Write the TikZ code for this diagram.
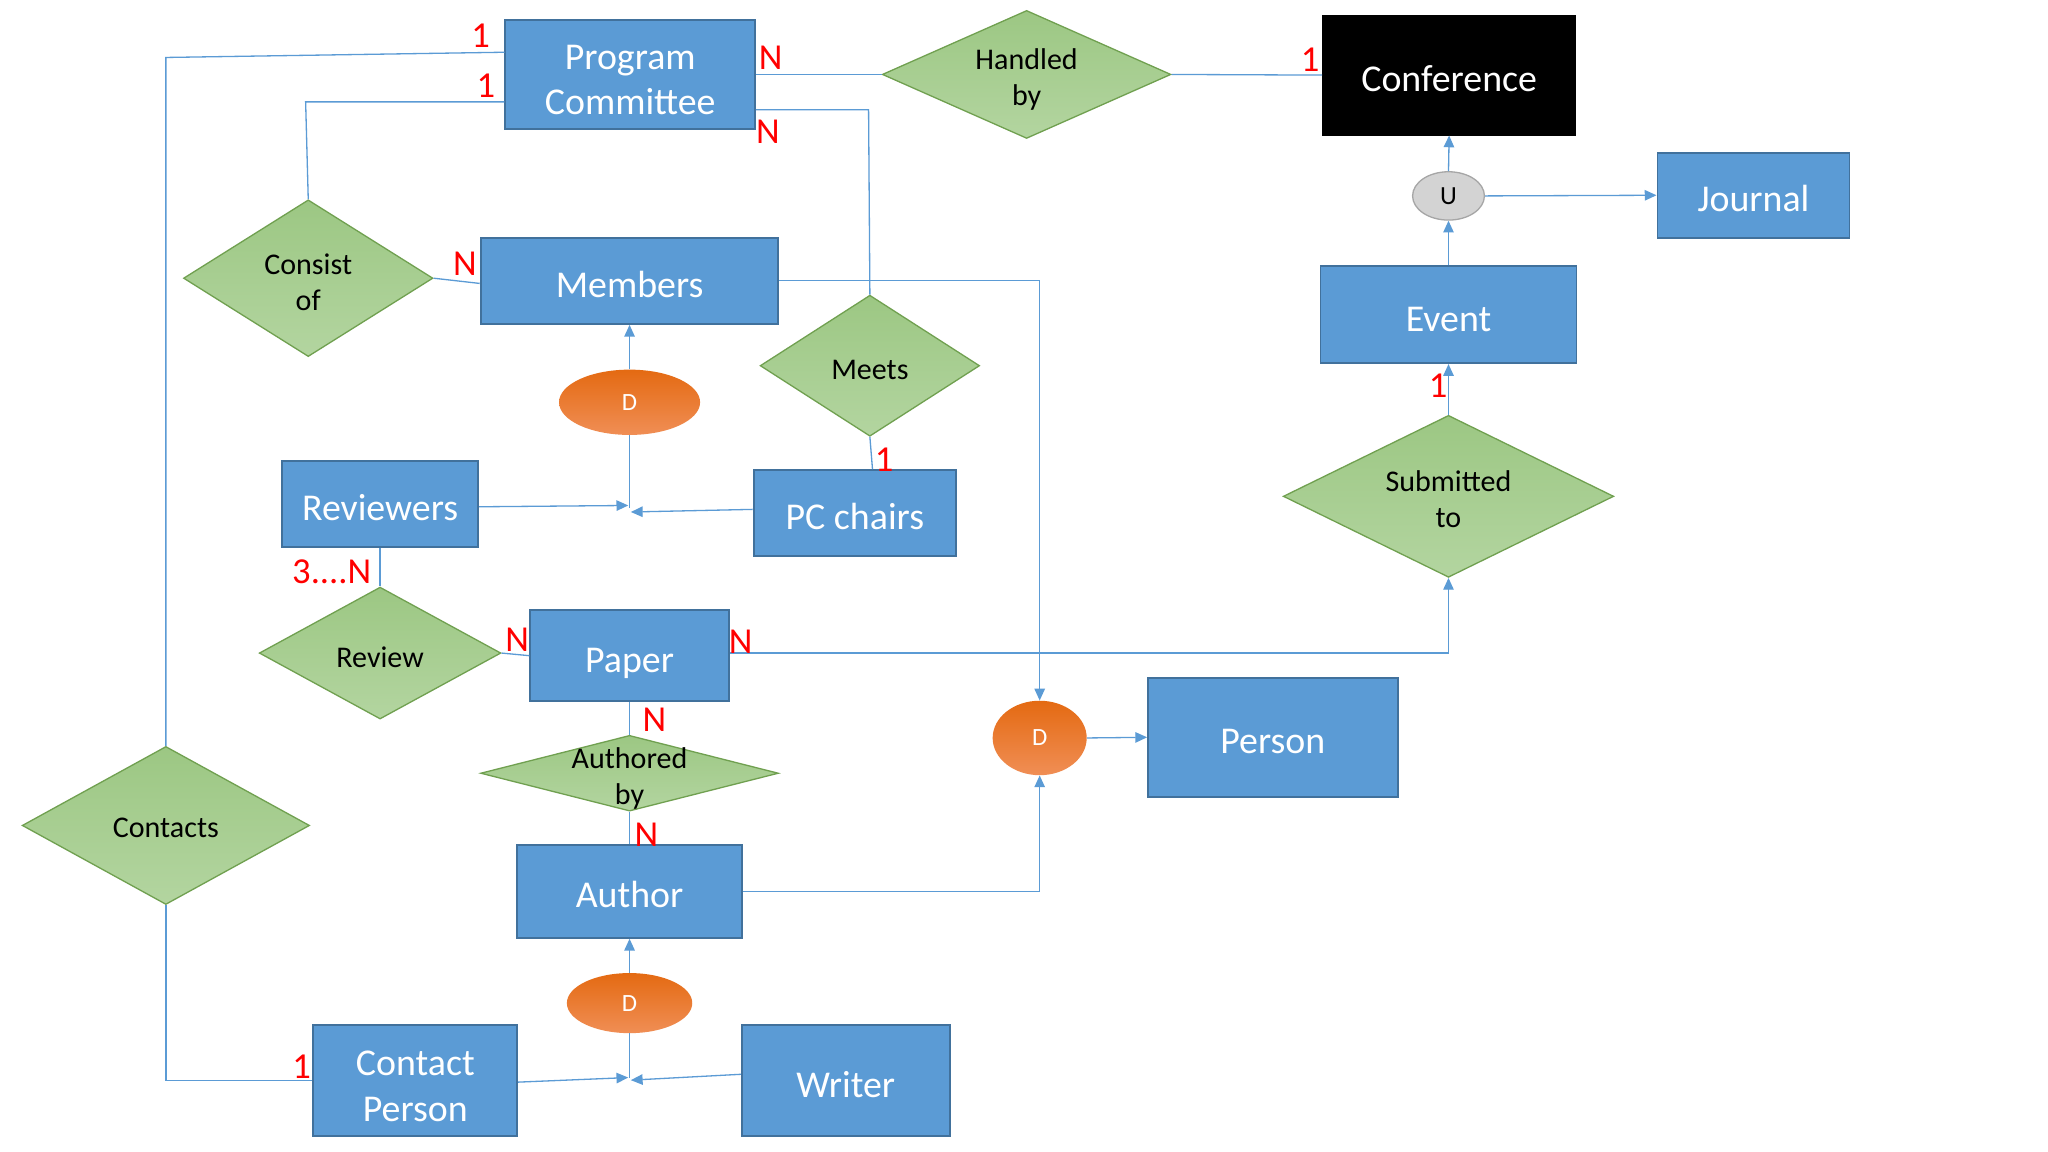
\documentclass[tikz,border=0pt]{standalone}
\usepackage{fontspec}
\setmainfont{Carlito}
\usetikzlibrary{shapes.geometric,arrows.meta,calc}
\definecolor{eblue}{HTML}{5B9BD5}
\definecolor{eborder}{HTML}{41719C}
\definecolor{gtop}{HTML}{9CC783}
\definecolor{gbot}{HTML}{B3D5A0}
\definecolor{gborder}{HTML}{70A050}
\definecolor{otop}{HTML}{E46A12}
\definecolor{obot}{HTML}{F08E55}
\definecolor{ugray}{HTML}{D3D3D3}
\definecolor{uborder}{HTML}{A6A6A6}
\begin{document}
\begin{tikzpicture}[x=1pt,y=-1pt,
 ent/.style={rectangle, fill=eblue, draw=eborder, line width=1.5pt, text=white, font=\fontsize{29}{35}\selectfont, align=center, inner sep=0pt, text height=26pt, text depth=1pt},
 ent2/.style={ent, text height=62pt, text depth=0pt},
 rel/.style={diamond, draw=gborder, line width=1pt, top color=gtop, bottom color=gbot, inner sep=0pt},
 reltxt/.style={font=\fontsize{23}{27.5}\selectfont, align=center, text=black, inner sep=0pt},
 dis/.style={ellipse, draw=none, top color=otop, bottom color=obot, text=white, font=\fontsize{19}{19}\selectfont, inner sep=0pt},
 ln/.style={draw=eblue, line width=1pt},
 arr/.style={ln, -{Triangle[length=9pt,width=8pt]}},
 card/.style={text=red, font=\fontsize{28}{28}\selectfont, inner sep=0pt}
]
\useasboundingbox (0,0) rectangle (1568,882);
\fill[white] (0,0) rectangle (1568,882);

% entities
\node[ent2, minimum width=191, minimum height=84] (pc) at (482.5,57) {Program\\Committee};
\node[ent, fill=black, draw=black, minimum width=193, minimum height=91] (conf) at (1109.5,57.5) {Conference};
\node[ent, minimum width=147, minimum height=65] (journal) at (1342.5,149.5) {Journal};
\node[ent, minimum width=196, minimum height=74] (event) at (1109,241) {Event};
\node[ent, minimum width=228, minimum height=66] (members) at (482,215) {Members};
\node[ent, minimum width=150, minimum height=66] (reviewers) at (291,386) {Reviewers};
\node[ent, minimum width=155, minimum height=66] (pcchairs) at (654.5,393) {PC chairs};
\node[ent, minimum width=152, minimum height=70] (paper) at (482,502) {Paper};
\node[ent, minimum width=191, minimum height=91] (person) at (974.5,564.5) {Person};
\node[ent, minimum width=172, minimum height=71] (author) at (482,682.5) {Author};
\node[ent2, minimum width=156, minimum height=85] (contactp) at (318,827.5) {Contact\\Person};
\node[ent, minimum width=159, minimum height=85] (writer) at (647.5,827.5) {Writer};

% relationships
\node[rel, minimum width=221, minimum height=98] (handled) at (786,57) {};
\node[reltxt] (handledt) at (786,61) {Handled\\by};
\node[rel, minimum width=191, minimum height=120] (consist) at (236,213) {};
\node[reltxt] (consistt) at (236,216) {Consist\\of};
\node[rel, minimum width=168, minimum height=108] (meets) at (666,280) {};
\node[reltxt] (meetst) at (666,283) {Meets};
\node[rel, minimum width=253, minimum height=124] (submitted) at (1109,380) {};
\node[reltxt] (submittedt) at (1109,382) {Submitted\\to};
\node[rel, minimum width=185, minimum height=101] (review) at (291,500) {};
\node[reltxt] (reviewt) at (291,503) {Review};
\node[rel, minimum width=228, minimum height=58] (authored) at (482,592) {};
\node[reltxt] (authoredt) at (482,596) {Authored\\by};
\node[rel, minimum width=220, minimum height=121] (contacts) at (127,632) {};
\node[reltxt] (contactst) at (127,634) {Contacts};

% disjoint / union
\node[dis, minimum width=108, minimum height=50] (dm) at (482,308) {D};
\node[dis, minimum width=72, minimum height=57] (dp) at (796,565) {D};
\node[dis, minimum width=96, minimum height=46] (da) at (482,768) {D};
\node[ellipse, fill=ugray, draw=uborder, line width=1pt, minimum width=55, minimum height=37, inner sep=0pt, font=\fontsize{20}{20}\selectfont] (u) at (1109,150) {U};

\coordinate (j1) at (482,389);
\coordinate (j2) at (482,825);
\coordinate (pcL1) at (127,44);
\coordinate (pcL2) at (234,78);
\coordinate (pcR) at (665,84);

% connectors
\draw[ln] (pc.east) -- (handled.west);
\draw[ln] (handled.east) -- (conf.west);
\draw[ln] ([yshift=17pt]pc.west) -- (pcL1) -- (contacts.north);
\draw[ln] ([yshift=-21pt]pc.west) -- (pcL2) -- (consist.north);
\draw[ln] (consist.east) -- ([yshift=-2pt]members.west);
\draw[ln] ([yshift=-27pt]pc.east) -- (pcR) -- (meets.north);
\draw[ln] (meets.south) -- ([xshift=13.5pt]pcchairs.north);
\draw[arr] (members.east) -| (dp.north);
\draw[arr] (dm.north) -- (members.south);
\draw[ln] (dm.south) -- (j1);
\draw[arr] ([yshift=-2pt]reviewers.east) -- ([xshift=-1pt,yshift=2pt]j1);
\draw[arr] ([yshift=3pt]pcchairs.west) -- ([xshift=1pt,yshift=-3pt]j1);
\draw[ln] (reviewers.south) -- (review.north);
\draw[ln] (review.east) -- (paper.west);
\draw[arr] ([yshift=2pt]paper.east) -| (submitted.south);
\draw[arr] (submitted.north) -- (event.south);
\draw[arr] (event.north) -- (u.south);
\draw[arr] (u.north) -- (conf.south);
\draw[arr] (u.east) -- (journal.west);
\draw[ln] (paper.south) -- (authored.north);
\draw[ln] (authored.south) -- (author.north);
\draw[arr] (author.east) -| (dp.south);
\draw[arr] (dp.east) -- (person.west);
\draw[arr] (da.north) -- (author.south);
\draw[ln] (da.south) -- (j2);
\draw[arr] ([yshift=-1pt]contactp.east) -- ([xshift=-1pt]j2);
\draw[arr] ([yshift=5pt]writer.west) -- ([xshift=1pt,yshift=-2pt]j2);
\draw[ln] (contacts.south) |- (contactp.west);

% cardinalities
\node[card] (c1) at (368,27) {1};
\node[card] (c2) at (372,66) {1};
\node[card] (c3) at (590,44) {N};
\node[card] (c4) at (588,101) {N};
\node[card] (c5) at (1003,46) {1};
\node[card] (c6) at (356,202) {N};
\node[card] (c7) at (677,352) {1};
\node[card] (c8) at (1101,295) {1};
\node[card] (c9) at (254,438) {3....N};
\node[card] (c10) at (396,490) {N};
\node[card] (c11) at (567,491) {N};
\node[card] (c12) at (501,551) {N};
\node[card] (c13) at (495,639) {N};
\node[card] (c14) at (231,817) {1};
\end{tikzpicture}
\end{document}
